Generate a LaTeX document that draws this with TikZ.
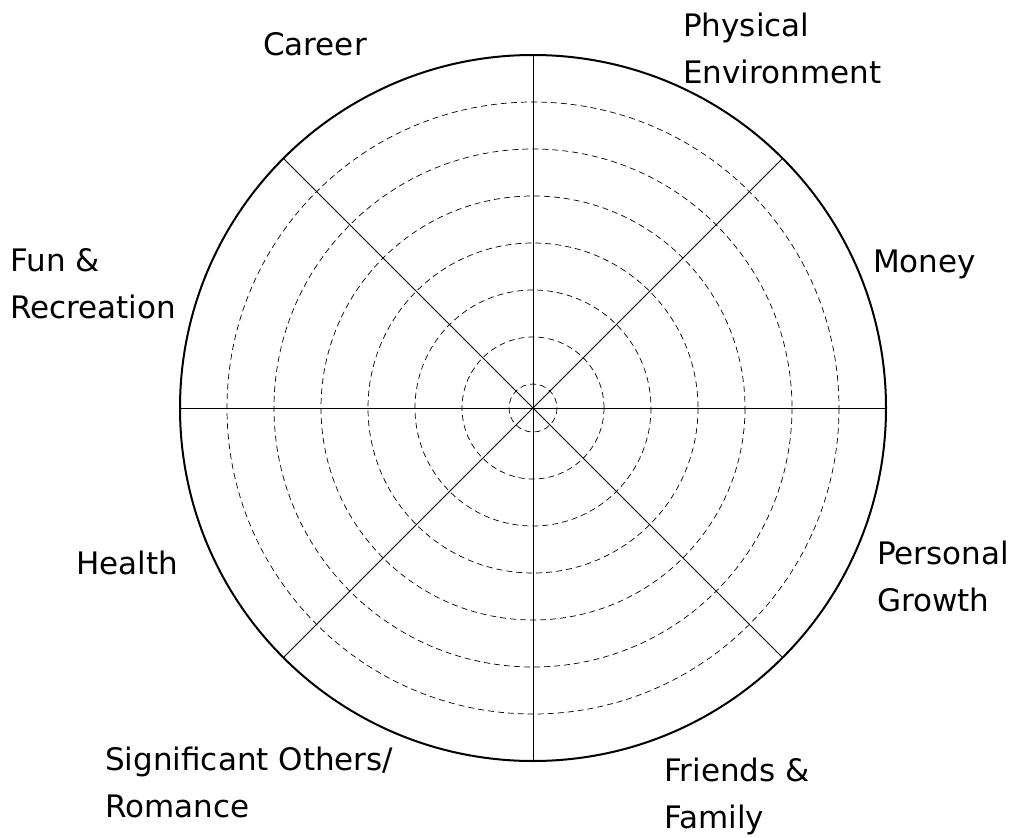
\documentclass[tikz,border=0pt]{standalone}
\usepackage{fontspec}
\setmainfont{DejaVu Sans}
\usepackage{tikz}
\usetikzlibrary{positioning,calc}

\tikzset{
  lbl/.style={anchor=base west,align=left,inner sep=0pt,
    font=\fontsize{31}{47}\selectfont},
  ring/.style={dash pattern=on 6pt off 4pt,line width=0.7pt},
}

\begin{document}
\begin{tikzpicture}[x=1pt,y=-1pt]

  \useasboundingbox (0,0) rectangle (1013,838);

  \coordinate (c) at (533,408);

  % rings
  \draw[ring] (c) circle[radius=24];
  \draw[ring] (c) circle[radius=71];
  \draw[ring] (c) circle[radius=118];
  \draw[ring] (c) circle[radius=165];
  \draw[ring] (c) circle[radius=212];
  \draw[ring] (c) circle[radius=259];
  \draw[ring] (c) circle[radius=306];
  \draw[line width=2pt] (c) circle[radius=353];

  % spokes
  \draw[line width=0.8pt] ($(c)+(0,-353)$) -- ($(c)+(0,353)$);
  \draw[line width=0.8pt] ($(c)+(-353,0)$) -- ($(c)+(353,0)$);
  \draw[line width=0.8pt] ($(c)+(-249.6,-249.6)$) -- ($(c)+(249.6,249.6)$);
  \draw[line width=0.8pt] ($(c)+(-249.6,249.6)$) -- ($(c)+(249.6,-249.6)$);

  % labels (base = last line)
  \node[lbl] (l0) at (263,55) {Career};
  \node[lbl] (l1) at (683,83) {Physical\\Environment};
  \node[lbl] (l2) at (873,272) {Money};
  \node[lbl] (l3) at (877,611) {Personal\\Growth};
  \node[lbl] (l4) at (664,828) {Friends \&\\Family};
  \node[lbl] (l5) at (105,817) {Significant Others/\\Romance};
  \node[lbl] (l6) at (76,574) {Health};
  \node[lbl] (l7) at (10,318) {Fun \&\\Recreation};

\end{tikzpicture}
\end{document}
